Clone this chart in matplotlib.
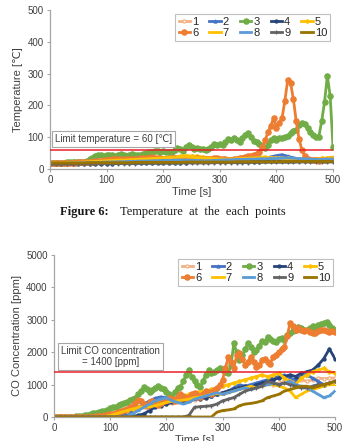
import numpy as np
import matplotlib
matplotlib.use('Agg')
import matplotlib.pyplot as plt

# ---------------------
# Data (time in s)
# ---------------------
t_fine = np.arange(0, 501, 5)     # series 3 and 6
t_coarse = np.arange(0, 501, 10)  # all other series

series_names = ['1', '2', '3', '4', '5', '6', '7', '8', '9', '10']

# Temperature [°C]
temp_3 = [20, 20, 20, 20, 20, 20, 21, 21, 21, 22,
          22, 22, 23, 25, 30, 36, 42, 45, 44, 42,
          44, 43, 45, 42, 44, 46, 43, 42, 44, 46,
          45, 43, 45, 48, 50, 52, 55, 58, 56, 54,
          57, 55, 52, 54, 60, 66, 62, 58, 70, 74,
          68, 64, 66, 62, 64, 60, 63, 70, 78, 74,
          80, 76, 86, 94, 90, 98, 92, 86, 96, 108,
          112, 100, 88, 84, 78, 72, 66, 76, 90, 96,
          92, 98, 96, 100, 104, 112, 118, 124, 138, 146,
          140, 128, 116, 108, 100, 102, 150, 210, 292, 230,
          70]
temp_6 = [20, 20, 20, 20, 20, 20, 20, 20, 20, 20,
          21, 21, 21, 22, 22, 23, 24, 25, 26, 27,
          28, 28, 30, 30, 31, 30, 29, 30, 31, 32,
          32, 33, 34, 34, 35, 36, 37, 36, 35, 34,
          33, 32, 34, 36, 35, 33, 31, 30, 30, 31,
          32, 33, 34, 33, 32, 31, 30, 32, 34, 35,
          33, 32, 30, 29, 28, 30, 32, 34, 36, 38,
          40, 42, 45, 48, 55, 70, 90, 115, 135, 160,
          130, 145, 160, 215, 280, 270, 220, 150, 95, 60,
          40, 30, 28, 27, 28, 26, 27, 28, 29, 30,
          30]
temp_1 = [18, 18, 18, 19, 19, 20, 21, 22, 22, 23,
          24, 25, 25, 26, 27, 28, 28, 29, 30, 30,
          30, 31, 31, 30, 29, 28, 28, 29, 30, 31,
          30, 29, 28, 27, 27, 28, 30, 32, 33, 34,
          32, 30, 28, 27, 26, 25, 26, 27, 28, 29, 30]
temp_2 = [17, 17, 17, 18, 18, 18, 19, 19, 20, 20,
          20, 21, 21, 22, 22, 23, 23, 24, 24, 25,
          26, 27, 28, 27, 26, 25, 25, 26, 27, 28,
          27, 26, 26, 27, 28, 29, 30, 32, 34, 38,
          42, 45, 40, 35, 32, 30, 28, 27, 28, 30, 32]
temp_4 = [15, 15, 15, 15, 16, 16, 16, 16, 17, 17,
          17, 17, 18, 18, 18, 18, 19, 19, 19, 19,
          20, 20, 20, 20, 20, 21, 21, 21, 21, 22,
          22, 22, 22, 22, 23, 23, 23, 23, 24, 24,
          24, 24, 24, 24, 25, 25, 25, 25, 26, 26, 26]
temp_5 = [20, 20, 20, 20, 21, 22, 23, 24, 25, 26,
          27, 28, 29, 30, 31, 32, 33, 34, 34, 35,
          36, 37, 38, 40, 42, 41, 40, 38, 36, 35,
          34, 33, 33, 34, 35, 36, 37, 38, 37, 36,
          35, 34, 34, 33, 33, 32, 32, 33, 34, 35, 36]
temp_7 = [19, 19, 19, 20, 20, 21, 22, 23, 24, 25,
          26, 27, 28, 28, 29, 30, 31, 32, 33, 34,
          35, 36, 36, 37, 38, 37, 36, 35, 34, 33,
          32, 31, 31, 32, 33, 34, 35, 36, 35, 34,
          33, 32, 31, 30, 30, 29, 29, 30, 31, 32, 38]
temp_8 = [18, 18, 18, 18, 19, 19, 20, 20, 21, 21,
          22, 22, 23, 23, 24, 24, 25, 25, 26, 26,
          27, 27, 28, 28, 28, 27, 27, 26, 26, 27,
          28, 29, 29, 30, 30, 31, 31, 32, 32, 33,
          33, 34, 35, 34, 33, 32, 31, 30, 30, 31, 32]
temp_9 = [15, 15, 15, 15, 15, 16, 16, 16, 16, 16,
          17, 17, 17, 17, 17, 17, 18, 18, 18, 18,
          18, 18, 18, 19, 19, 19, 19, 19, 19, 20,
          20, 20, 20, 20, 20, 20, 21, 21, 21, 21,
          21, 21, 21, 21, 22, 22, 22, 22, 22, 22, 22]
temp_10 = [19, 19, 19, 19, 19, 19, 19, 20, 20, 20,
           20, 20, 20, 20, 20, 21, 21, 21, 21, 21,
           21, 21, 21, 21, 22, 22, 22, 22, 22, 22,
           22, 22, 22, 23, 23, 23, 23, 23, 23, 23,
           23, 23, 24, 24, 24, 24, 24, 24, 24, 24, 24]

# CO concentration [ppm]
co_3 = [0, 0, 0, 0, 0, 5, 10, 15, 20, 30,
        40, 50, 70, 90, 110, 130, 150, 170, 200, 230,
        270, 300, 320, 360, 400, 430, 470, 520, 560, 600,
        700, 800, 930, 870, 780, 830, 900, 950, 890, 860,
        780, 700, 630, 760, 900, 940, 1100, 1300, 1450, 1250,
        1100, 1000, 935, 1100, 1300, 1450, 1350, 1400, 1450, 1500,
        1450, 1380, 1350, 1600, 2280, 2000, 1760, 1900, 2100, 2280,
        2150, 2000, 2070, 2200, 2350, 2300, 2480, 2420, 2350, 2330,
        2400, 2450, 2380, 2530, 2600, 2650, 2700, 2790, 2750, 2700,
        2690, 2750, 2800, 2760, 2840, 2880, 2900, 2940, 2850, 2760,
        2690]
co_6 = [0, 0, 0, 0, 0, 0, 0, 0, 0, 0,
        0, 0, 5, 10, 15, 20, 30, 40, 50, 60,
        80, 100, 120, 150, 180, 215, 250, 300, 350, 420,
        520, 480, 400, 350, 450, 500, 420, 380, 430, 480,
        520, 600, 550, 500, 620, 700, 650, 580, 620, 700,
        750, 680, 620, 700, 800, 760, 700, 820, 900, 1000,
        1150, 1500, 1850, 1700, 1500, 1900, 1970, 1800, 1600, 1700,
        1850, 1700, 1550, 1600, 1750, 1800, 1700, 1650, 1860, 1900,
        2000, 2100, 2170, 2500, 2900, 2800, 2700, 2750, 2690, 2650,
        2700, 2620, 2600, 2590, 2650, 2700, 2690, 2650, 2620, 2640,
        2630]
co_1 = [0, 0, 0, 0, 0, 0, 0, 0, 10, 20,
        40, 70, 100, 150, 200, 250, 300, 320, 350, 380,
        400, 420, 450, 480, 500, 520, 550, 600, 650, 700,
        750, 800, 850, 900, 880, 920, 950, 1000, 1050, 1000,
        1050, 1100, 1080, 1120, 1150, 1100, 1150, 1200, 1180, 1200, 1200]
co_2 = [0, 0, 0, 0, 0, 0, 0, 0, 0, 0,
        10, 20, 50, 100, 200, 300, 400, 500, 580, 620,
        600, 550, 500, 450, 550, 600, 650, 700, 650, 700,
        750, 800, 900, 1000, 950, 1000, 1050, 1100, 1150, 1200,
        1250, 1300, 1200, 1150, 1250, 1300, 1200, 1100, 1000, 1050, 1100]
co_4 = [0, 0, 0, 0, 0, 0, 0, 0, 0, 0,
        0, 0, 0, 0, 20, 50, 100, 200, 300, 350,
        400, 450, 500, 480, 520, 600, 550, 600, 650, 700,
        750, 800, 850, 900, 950, 900, 1000, 1050, 1100, 1150,
        1200, 1250, 1300, 1250, 1350, 1400, 1450, 1600, 1800, 2100, 1800]
co_5 = [0, 0, 0, 0, 0, 0, 0, 0, 20, 50,
        100, 150, 180, 200, 250, 300, 350, 400, 450, 480,
        500, 550, 600, 650, 700, 750, 780, 800, 850, 900,
        950, 1000, 1050, 1100, 1150, 1200, 1250, 1300, 1250, 1300,
        1350, 1200, 1100, 1000, 1200, 1300, 1400, 1450, 1500, 1400, 1350]
co_7 = [0, 0, 0, 0, 0, 0, 0, 0, 0, 10,
        50, 100, 150, 200, 250, 280, 300, 320, 350, 400,
        450, 480, 500, 520, 550, 600, 620, 650, 700, 720,
        700, 750, 800, 850, 900, 950, 900, 950, 1000, 1000,
        950, 900, 800, 600, 700, 800, 850, 900, 950, 1000, 1000]
co_8 = [0, 0, 0, 0, 0, 0, 0, 0, 0, 0,
        0, 0, 0, 20, 100, 200, 300, 400, 500, 550,
        600, 500, 450, 400, 450, 550, 600, 650, 700, 750,
        700, 750, 800, 850, 900, 850, 900, 950, 1000, 1050,
        1000, 1050, 1100, 1000, 950, 900, 800, 700, 600, 650, 800]
co_9 = [0, 0, 0, 0, 0, 0, 0, 0, 0, 0,
        0, 0, 0, 0, 0, 0, 0, 0, 0, 0,
        0, 0, 0, 0, 50, 300, 320, 330, 350, 400,
        500, 550, 600, 700, 800, 850, 900, 950, 1100, 1050,
        1000, 1050, 1000, 950, 900, 900, 950, 1000, 1000, 1050, 1100]
co_10 = [0, 0, 0, 0, 0, 0, 0, 0, 0, 0,
         0, 0, 0, 0, 0, 0, 0, 0, 0, 0,
         0, 0, 0, 0, 0, 0, 0, 0, 0, 150,
         200, 220, 250, 350, 400, 420, 450, 500, 600, 650,
         700, 800, 850, 900, 950, 950, 900, 950, 1000, 1050, 1100]

temp_series = [temp_1, temp_2, temp_3, temp_4, temp_5,
               temp_6, temp_7, temp_8, temp_9, temp_10]
co_series = [co_1, co_2, co_3, co_4, co_5,
             co_6, co_7, co_8, co_9, co_10]

# ---------------------
# Style per series (Excel-like palette)
# ---------------------
colors = ['#F4B183', '#4472C4', '#70AD47', '#264478', '#FFC000',
          '#ED7D31', '#FFC000', '#5B9BD5', '#636363', '#997300']
markers = ['o', '^', 'o', 'o', 'D', 'o', '_', '_', '+', '_']
msizes = [2.2, 2.2, 3.8, 2.2, 2.0, 3.8, 2.8, 2.8, 2.8, 2.8]

plt.rcParams['font.family'] = ['Liberation Sans', 'DejaVu Sans']
TXT = '#404040'
SPINE = '#A6A6A6'

fig = plt.figure(figsize=(3.44, 4.41), dpi=100)
ax_t = fig.add_axes([50 / 344, 1 - 169 / 441, 283 / 344, 159 / 441])
ax_c = fig.add_axes([54 / 344, 1 - 417 / 441, 281 / 344, 162 / 441])


def draw(ax, data, ylim, ylabel, leg_anchor):
    handles = []
    for i, y in enumerate(data):
        t = t_fine if len(y) == len(t_fine) else t_coarse
        face = 'white' if i == 0 else colors[i]
        h, = ax.plot(t, y, color=colors[i], lw=2.0, marker=markers[i],
                     ms=msizes[i], mfc=face, mec=colors[i], mew=0.9,
                     solid_joinstyle='round', label=series_names[i])
        handles.append(h)
    ax.set_xlim(0, 500)
    ax.set_ylim(*ylim)
    ax.set_xticks(np.arange(0, 501, 100))
    ax.set_yticks(np.linspace(ylim[0], ylim[1], 6))
    for s in ['top', 'right']:
        ax.spines[s].set_visible(False)
    for s in ['left', 'bottom']:
        ax.spines[s].set_color(SPINE)
        ax.spines[s].set_linewidth(0.9)
    ax.tick_params(direction='out', length=2.5, width=0.8, color=SPINE,
                   labelsize=7, labelcolor=TXT, pad=2)
    ax.set_xlabel('Time [s]', fontsize=8, color=TXT, labelpad=1)
    ax.set_ylabel(ylabel, fontsize=8, color=TXT, labelpad=3)
    # legend filled row by row (1-5 on top, 6-10 below)
    order = [0, 5, 1, 6, 2, 7, 3, 8, 4, 9]
    leg = ax.legend(handles=[handles[k] for k in order], ncol=5,
                    loc='upper right', bbox_to_anchor=leg_anchor,
                    bbox_transform=fig.transFigure,
                    fontsize=8, frameon=True, fancybox=False, framealpha=1,
                    handlelength=1.0, handletextpad=0.2, columnspacing=1.0,
                    borderpad=0.3, labelspacing=0.1, markerscale=1.0)
    leg.get_frame().set_edgecolor('#BFBFBF')
    leg.get_frame().set_linewidth(0.8)
    for txt in leg.get_texts():
        txt.set_color('#262626')


draw(ax_t, temp_series, (0, 500), 'Temperature [\u2103]',
     (336 / 344, 1 - 8 / 441))
draw(ax_c, co_series, (0, 5000), 'CO Concentration [ppm]',
     (339 / 344, 1 - 253 / 441))

# limit lines and their labels
ax_t.axhline(60, color='#E8202A', lw=1.1, zorder=5)
ax_t.text(8, 95, 'Limit temperature = 60 [\u2103]', fontsize=7, color=TXT,
          ha='left', va='center',
          bbox=dict(boxstyle='square,pad=0.3', fc='white', ec='#A6A6A6', lw=0.8))

ax_c.axhline(1400, color='#E8202A', lw=1.1, zorder=5)
ax_c.text(100, 1870, 'Limit CO concentration\n= 1400 [ppm]', fontsize=7,
          color=TXT, ha='center', va='center', multialignment='center',
          linespacing=1.1,
          bbox=dict(boxstyle='square,pad=0.3', fc='white', ec='#A6A6A6', lw=0.8))

# caption between the panels
fig.text(60 / 344, 1 - 212 / 441, 'Figure 6:', fontsize=9, fontweight='bold',
         family='Liberation Serif', ha='left', va='center', color='#1a1a1a')
fig.text(120 / 344, 1 - 212 / 441, 'Temperature  at  the  each  points',
         fontsize=9, family='Liberation Serif', ha='left', va='center',
         color='#1a1a1a')

fig.savefig('out.png', dpi=100)
